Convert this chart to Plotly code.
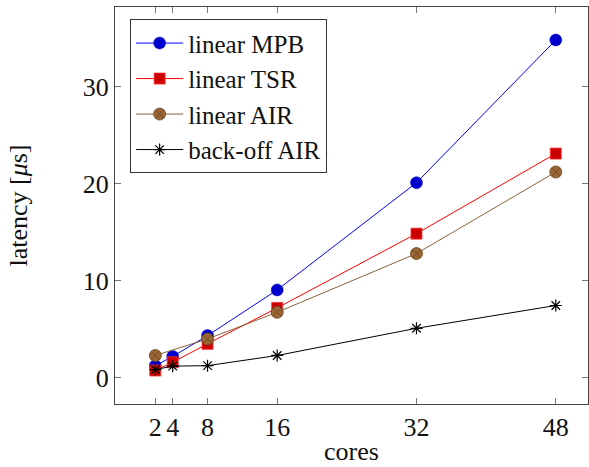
import plotly.graph_objects as go

# Latency measurements per core count
cores = [2, 4, 8, 16, 32, 48]
cores_air = [2, 8, 16, 32, 48]

linear_mpb = [1.25, 2.2, 4.35, 9.05, 20.1, 34.8]
linear_tsr = [0.75, 1.6, 3.5, 7.2, 14.85, 23.1]
linear_air = [2.3, 4.0, 6.75, 12.8, 21.2]
backoff_air = [0.85, 1.2, 1.25, 2.3, 5.1, 7.45]

x_ticks = [2, 4, 8, 16, 32, 48]
y_ticks = [0, 10, 20, 30]

FONT = "Liberation Serif"

fig = go.Figure()

fig.add_trace(go.Scatter(
    x=cores, y=linear_mpb, name="linear MPB", mode="lines+markers",
    line=dict(color="#0000ff", width=1),
    marker=dict(symbol="circle", size=12, color="#0000cc",
                line=dict(color="#0000cc", width=0.5)),
))
fig.add_trace(go.Scatter(
    x=cores, y=linear_tsr, name="linear TSR", mode="lines+markers",
    line=dict(color="#ff0000", width=1),
    marker=dict(symbol="square", size=11, color="#cc0000",
                line=dict(color="#ff3030", width=0.8)),
))
fig.add_trace(go.Scatter(
    x=cores_air, y=linear_air, name="linear AIR", mode="lines+markers",
    line=dict(color="#8a6238", width=1),
    marker=dict(symbol="circle-x", size=12, color="#996633",
                line=dict(color="#6b4520", width=0.8)),
))
fig.add_trace(go.Scatter(
    x=cores, y=backoff_air, name="back-off AIR", mode="lines+markers",
    line=dict(color="#000000", width=1),
    marker=dict(symbol="asterisk-open", size=10,
                line=dict(color="#000000", width=1.2)),
))

axis_common = dict(
    showline=True, linecolor="#444444", linewidth=1.2, mirror="ticks",
    ticks="inside", ticklen=6, tickwidth=1, tickcolor="#777777",
    showgrid=False, zeroline=False, automargin=False,
    tickfont=dict(family=FONT, size=26, color="#111111"),
)

fig.update_layout(
    width=589, height=467,
    margin=dict(l=115, r=1, t=7, b=63, autoexpand=False),
    paper_bgcolor="white", plot_bgcolor="white",
    font=dict(family=FONT, size=26, color="#111111"),
    xaxis=dict(
        range=[-2.63, 51.7], tickvals=x_ticks, ticktext=[str(v) for v in x_ticks],
        **axis_common,
    ),
    yaxis=dict(
        range=[-2.7, 38.2], tickvals=y_ticks,
        title=dict(text="latency [<i>μ</i>s]", font=dict(family=FONT, size=26), standoff=47),
        **axis_common,
    ),
    showlegend=True,
    legend=dict(
        x=0.032, y=0.969, xanchor="left", yanchor="top",
        bgcolor="white", bordercolor="#333333", borderwidth=1,
        font=dict(family=FONT, size=25, color="#111111"),
        itemwidth=47, tracegroupgap=0,
    ),
)

# x-axis title placed below the tick labels
fig.add_annotation(
    text="cores", xref="paper", yref="paper", x=0.5, y=-0.12,
    xanchor="center", yanchor="middle", showarrow=False,
    font=dict(family=FONT, size=26, color="#111111"),
)

fig.write_html("out.html", post_script="document.body.style.margin='0';")
